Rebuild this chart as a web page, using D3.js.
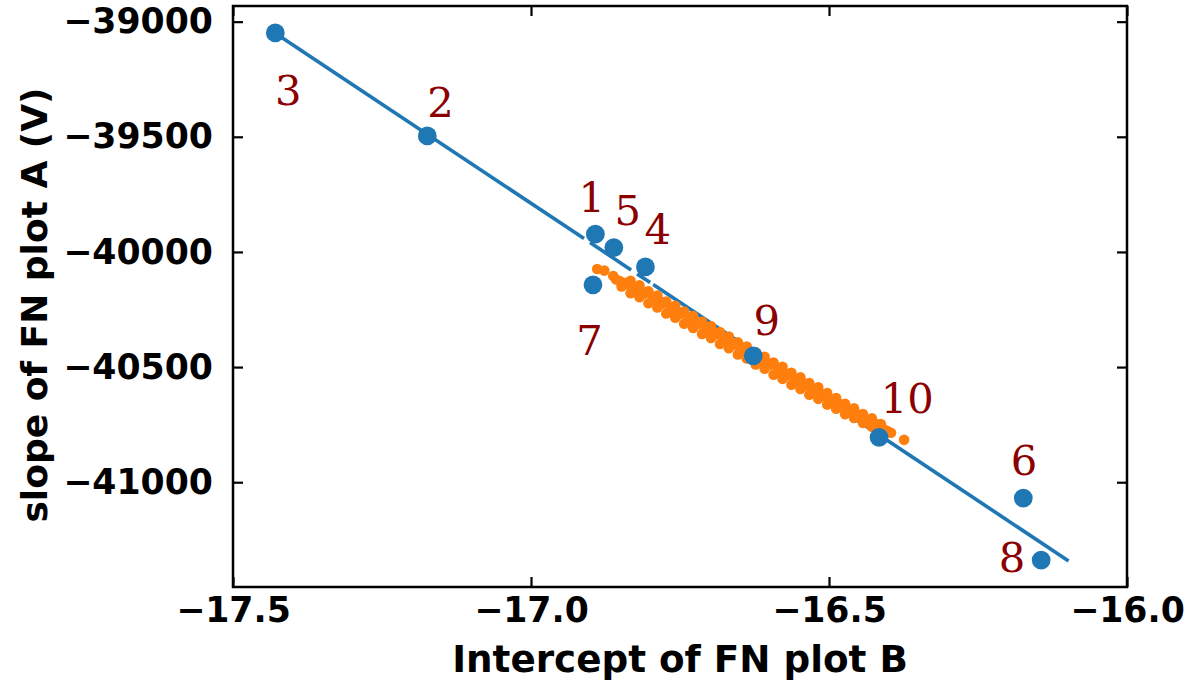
<!DOCTYPE html>
<html>
<head>
<meta charset="utf-8">
<script src="https://cdn.jsdelivr.net/npm/d3@7"></script>
<style>
  html, body { margin: 0; padding: 0; background: #fff; }
  svg { display: block; }
</style>
</head>
<body>
<svg id="chart" width="1201" height="684"></svg>
<script>
// ---------------- data ----------------
const pointIds = ["1","2","3","4","5","6","7","8","9","10"];
const pointX = [-16.892, -17.174, -17.429, -16.808, -16.861, -16.174, -16.896, -16.144, -16.627, -16.416];
const pointY = [-39923, -39496, -39049, -40065, -39981, -41069, -40143, -41338, -40451, -40805];

// label anchor positions (data coordinates, left/baseline)
const labelX = [-16.9205, -17.1741, -17.4295, -16.8097, -16.860, -16.1949, -16.9239, -16.2151, -16.6266, -16.4133];
const labelY = [-39826, -39414, -39362, -39965, -39883, -40968, -40447, -41389, -40360, -40699];

// fitted straight line (end points) and its visible pieces (x ranges)
const fitX = [-17.429, -16.098];
const fitY = [-39050, -41342];
const fitPieces = [[-17.429, -16.911], [-16.901, -16.832], [-16.822, -16.800], [-16.795, -16.098]];

// orange cloud of points
const orangePoints = [
  [-16.889,-40074],[-16.877,-40081],[-16.862,-40105],[-16.850,-40128],[-16.838,-40140],[-16.825,-40159],
  [-16.810,-40181],[-16.795,-40203],[-16.780,-40225],[-16.765,-40248],[-16.750,-40270],[-16.735,-40292],
  [-16.720,-40314],[-16.705,-40336],[-16.690,-40358],[-16.675,-40380],[-16.660,-40403],[-16.645,-40425],
  [-16.630,-40447],[-16.615,-40469],[-16.600,-40491],[-16.585,-40513],[-16.570,-40536],[-16.555,-40558],
  [-16.540,-40580],[-16.525,-40602],[-16.510,-40624],[-16.495,-40646],[-16.480,-40669],[-16.465,-40691],
  [-16.450,-40713],[-16.435,-40735],[-16.419,-40748],[-16.396,-40785],[-16.374,-40816],
  [-16.833,-40125],[-16.818,-40145],[-16.803,-40171],[-16.788,-40189],[-16.773,-40215],[-16.758,-40234],
  [-16.743,-40259],[-16.728,-40278],[-16.713,-40303],[-16.698,-40322],[-16.683,-40348],[-16.668,-40367],
  [-16.653,-40392],[-16.638,-40411],[-16.623,-40436],[-16.608,-40455],[-16.593,-40480],[-16.578,-40499],
  [-16.563,-40525],[-16.548,-40544],[-16.533,-40569],[-16.518,-40588],[-16.503,-40613],[-16.488,-40634],
  [-16.473,-40659],[-16.458,-40679],[-16.443,-40704],[-16.428,-40722],[-16.413,-40747],
  [-16.848,-40150],[-16.833,-40179],[-16.818,-40197],[-16.803,-40223],[-16.788,-40241],[-16.773,-40267],
  [-16.758,-40286],[-16.743,-40312],[-16.728,-40330],[-16.713,-40356],[-16.698,-40374],[-16.683,-40400],
  [-16.668,-40418],[-16.653,-40445],[-16.638,-40463],[-16.623,-40489],[-16.608,-40507],[-16.593,-40533],
  [-16.578,-40551],[-16.563,-40577],[-16.548,-40595],[-16.533,-40620],[-16.518,-40638],[-16.503,-40663],
  [-16.488,-40681],[-16.473,-40705],[-16.458,-40721],[-16.443,-40743],[-16.428,-40759],
  [-16.857,-40120],[-16.842,-40135],[-16.827,-40168],[-16.812,-40172],[-16.797,-40212],[-16.782,-40216],
  [-16.767,-40256],[-16.752,-40262],[-16.737,-40300],[-16.722,-40306],[-16.707,-40344],[-16.692,-40350],
  [-16.677,-40388],[-16.662,-40395],[-16.647,-40432],[-16.632,-40440],[-16.617,-40476],[-16.602,-40483],
  [-16.587,-40520],[-16.572,-40528],[-16.557,-40565],[-16.542,-40572],[-16.527,-40608],[-16.512,-40617],
  [-16.497,-40652],[-16.482,-40661],[-16.467,-40697],[-16.452,-40706],[-16.437,-40740],[-16.422,-40750],
  [-16.408,-40770],[-16.402,-40778]
];

const xDomain = [-17.5, -16.0];
const yDomain = [-41455, -38932];
const xTicks = [-17.5, -17.0, -16.5, -16.0];
const yTicks = [-39000, -39500, -40000, -40500, -41000];
const xTitle = "Intercept of FN plot B";
const yTitle = "slope of FN plot A (V)";

// ---------------- layout ----------------
const L = 233, R = 1127, T = 6, B = 587;
const svg = d3.select("#chart");
const x = d3.scaleLinear().domain(xDomain).range([L, R]);
const y = d3.scaleLinear().domain(yDomain).range([B, T]);

const blue = "#1f77b4", orange = "#ff7f0e", dark = "#8b0000";
const tickFont = "'DejaVu Sans', sans-serif";

const plot = svg.append("g");
plot.append("clipPath").attr("id", "clip")
  .append("rect").attr("x", L).attr("y", T).attr("width", R - L).attr("height", B - T);

// fit line pieces
const slope = (fitY[1] - fitY[0]) / (fitX[1] - fitX[0]);
const fitAt = v => fitY[0] + slope * (v - fitX[0]);
const lineGen = d3.line().x(d => x(d)).y(d => y(fitAt(d)));
plot.append("g").attr("clip-path", "url(#clip)")
  .selectAll("path").data(fitPieces).join("path")
  .attr("d", d => lineGen(d))
  .attr("fill", "none").attr("stroke", blue).attr("stroke-width", 3.6);

// orange points
plot.append("g").attr("clip-path", "url(#clip)")
  .selectAll("circle").data(orangePoints).join("circle")
  .attr("cx", d => x(d[0])).attr("cy", d => y(d[1])).attr("r", 5.3)
  .attr("fill", orange);

// blue points
plot.append("g")
  .selectAll("circle").data(pointX).join("circle")
  .attr("cx", (d) => x(d)).attr("cy", (d, i) => y(pointY[i])).attr("r", 9.4)
  .attr("fill", blue);

// labels
plot.append("g")
  .selectAll("text").data(pointIds).join("text")
  .attr("x", (d, i) => x(labelX[i])).attr("y", (d, i) => y(labelY[i]))
  .attr("font-family", "'DejaVu Serif', serif").attr("font-size", 41.7)
  .attr("fill", dark).text(d => d);

// axes (inward ticks on all sides)
function styleAxis(g) {
  g.select(".domain").remove();
  g.selectAll(".tick line").attr("stroke", "#000").attr("stroke-width", 2.2);
  g.selectAll(".tick text").attr("font-family", tickFont).attr("font-weight", "bold")
    .attr("font-size", 34.7).attr("fill", "#000");
}
const fmtX = d3.format(".1f"), fmtY = d3.format("d");
svg.append("g").attr("transform", `translate(0,${B})`)
  .call(d3.axisBottom(x).tickValues(xTicks).tickFormat(fmtX).tickSizeInner(-10).tickSizeOuter(0).tickPadding(10))
  .call(styleAxis);
svg.append("g").attr("transform", `translate(0,${T})`)
  .call(d3.axisTop(x).tickValues(xTicks).tickFormat("").tickSizeInner(-10).tickSizeOuter(0))
  .call(styleAxis);
svg.append("g").attr("transform", `translate(${L},0)`)
  .call(d3.axisLeft(y).tickValues(yTicks).tickFormat(fmtY).tickSizeInner(-10).tickSizeOuter(0).tickPadding(20))
  .call(styleAxis);
svg.append("g").attr("transform", `translate(${R},0)`)
  .call(d3.axisRight(y).tickValues(yTicks).tickFormat("").tickSizeInner(-10).tickSizeOuter(0))
  .call(styleAxis);

// frame
svg.append("rect").attr("x", L).attr("y", T).attr("width", R - L).attr("height", B - T)
  .attr("fill", "none").attr("stroke", "#000").attr("stroke-width", 2.5);

// titles
svg.append("text").attr("x", (L + R) / 2).attr("y", 672).attr("text-anchor", "middle")
  .attr("font-family", tickFont).attr("font-weight", "bold").attr("font-size", 37.3)
  .attr("fill", "#000").text(xTitle);
svg.append("text").attr("transform", `translate(47,305) rotate(-90)`).attr("text-anchor", "middle")
  .attr("font-family", tickFont).attr("font-weight", "bold").attr("font-size", 36)
  .attr("fill", "#000").text(yTitle);
</script>
</body>
</html>
